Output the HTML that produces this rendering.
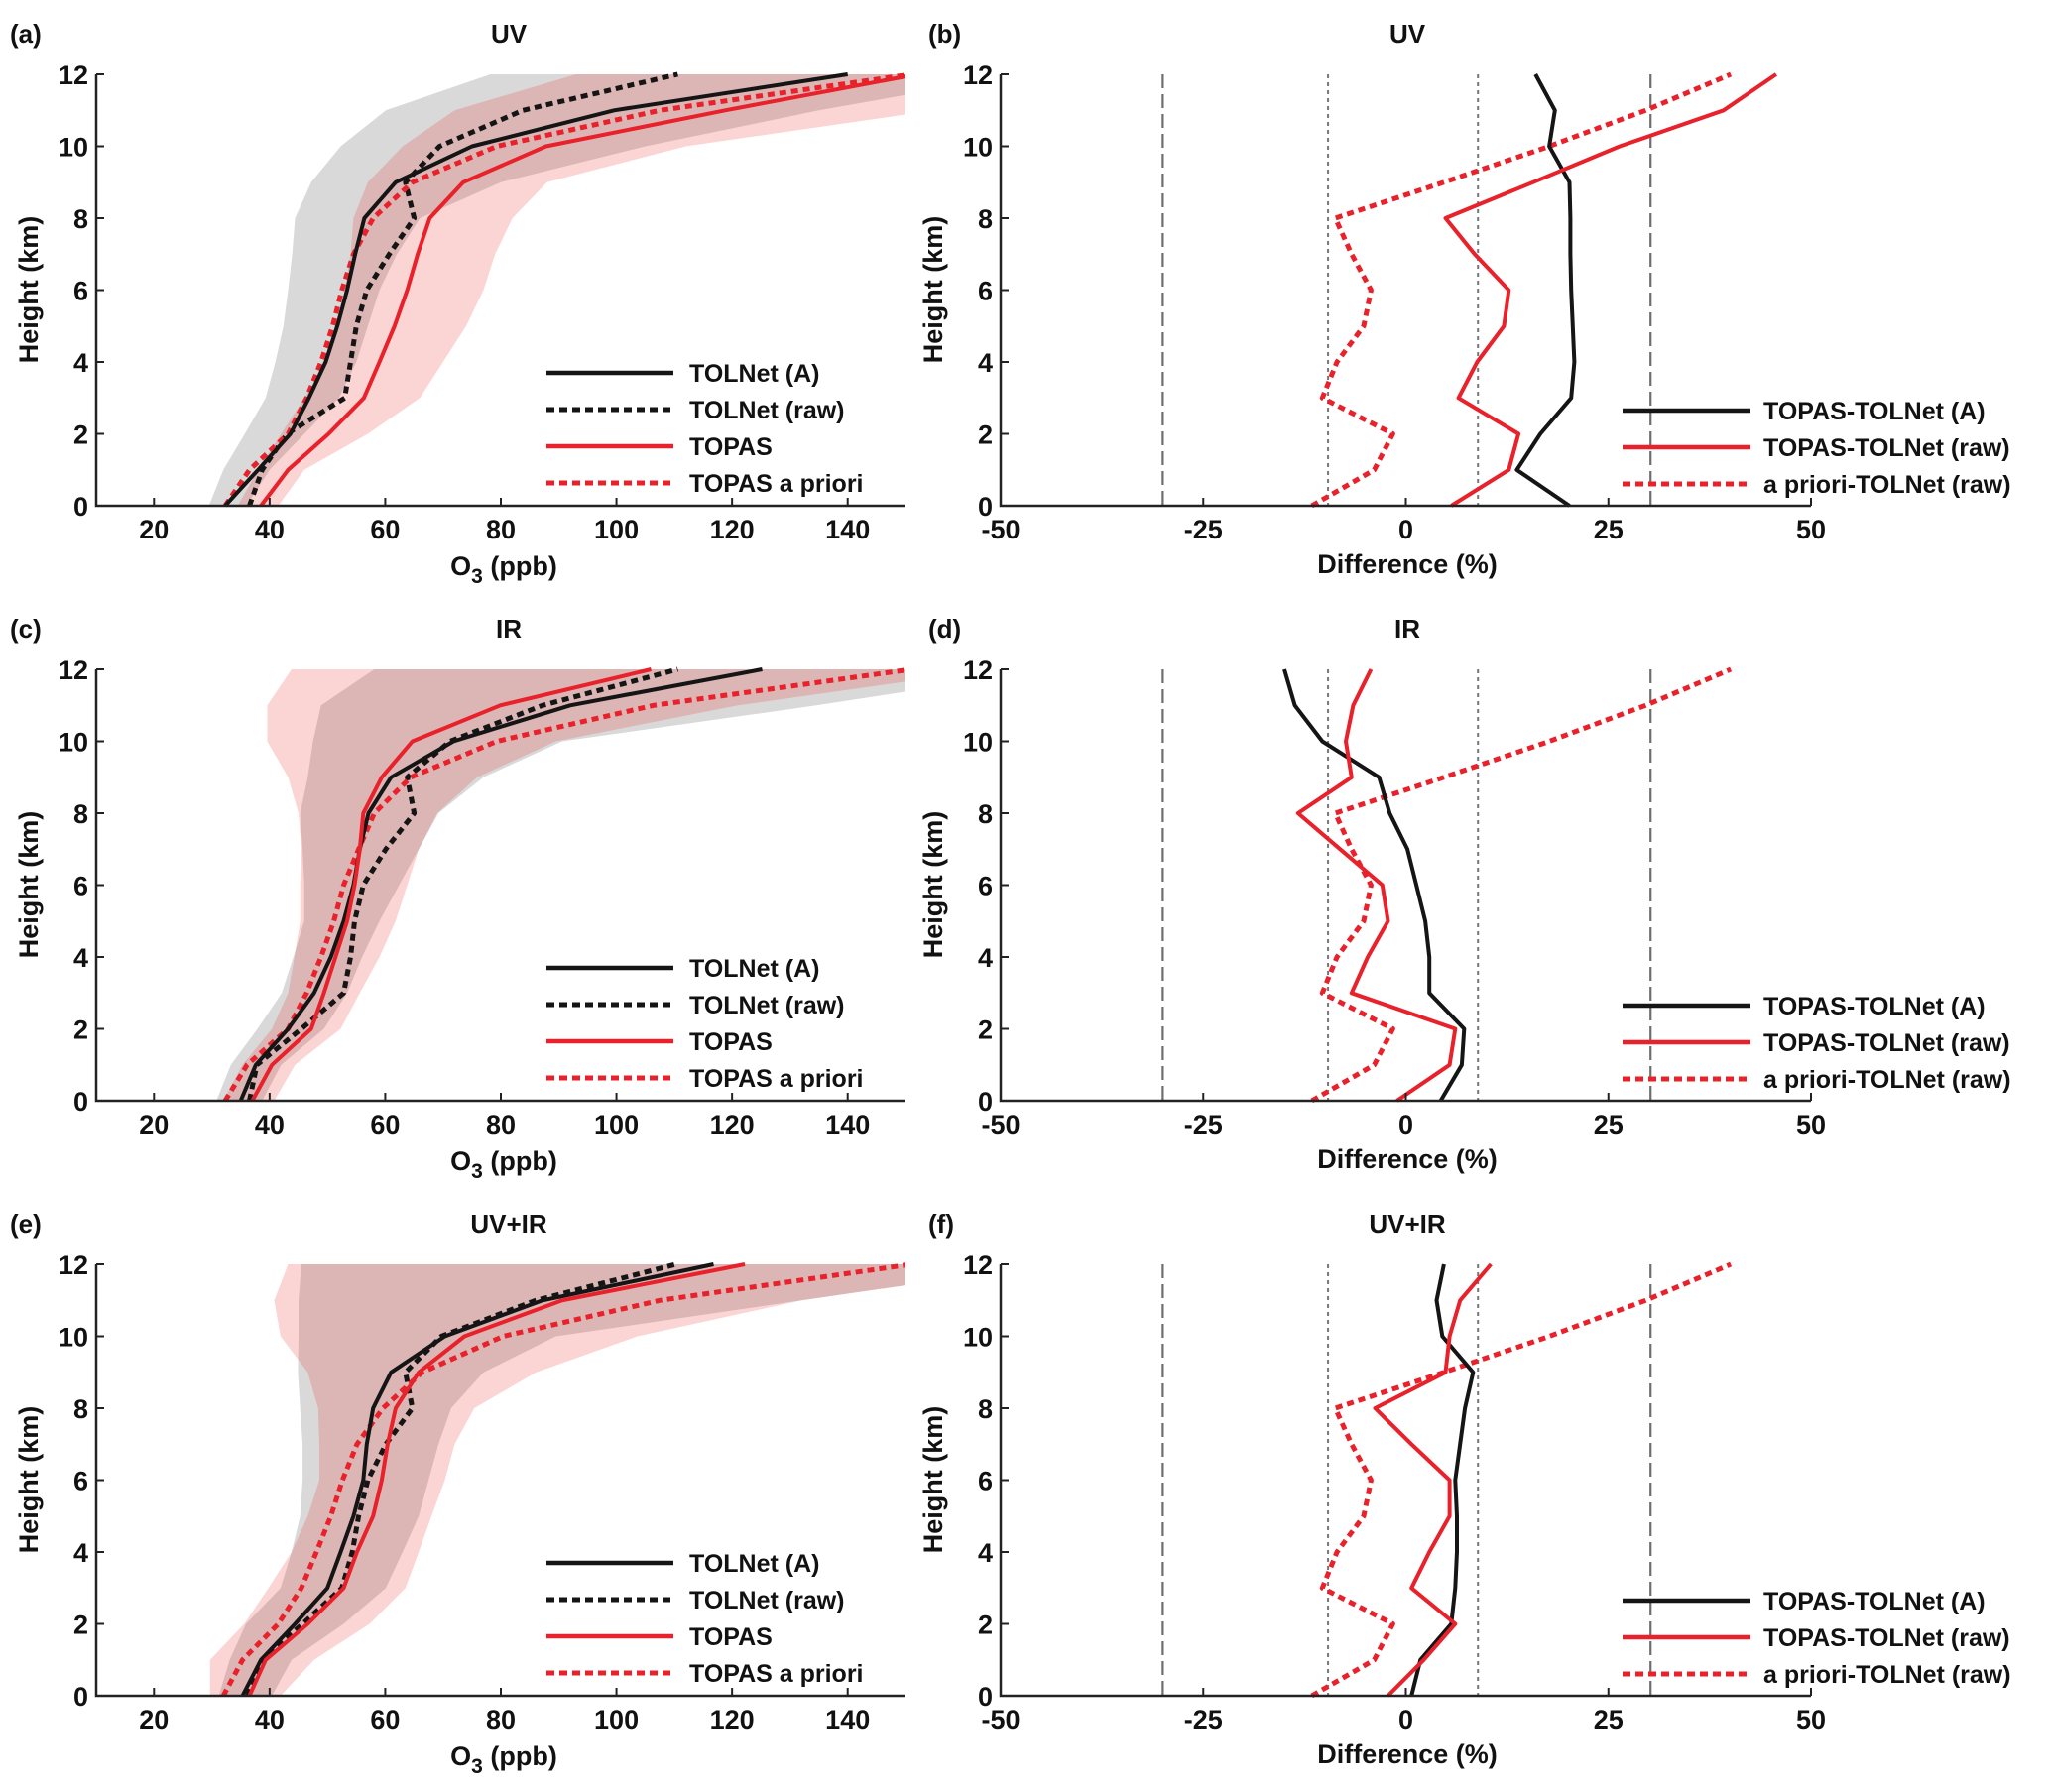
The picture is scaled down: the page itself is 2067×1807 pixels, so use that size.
<!DOCTYPE html>
<html><head><meta charset="utf-8">
<style>
html,body{margin:0;padding:0;background:#fff;}
svg{display:block;}
text{font-family:"Liberation Sans Narrow","Liberation Sans",sans-serif;font-weight:bold;fill:#111;}
</style></head>
<body>
<svg id="fig" width="2067" height="1807" viewBox="0 0 2067 1807" xmlns="http://www.w3.org/2000/svg">
<defs>
<clipPath id="clipL0"><rect x="97" y="60" width="816" height="452"/></clipPath>
<clipPath id="clipL1"><rect x="97" y="660" width="816" height="452"/></clipPath>
<clipPath id="clipL2"><rect x="97" y="1260" width="816" height="452"/></clipPath>
</defs>
</svg>
<script>
const heights = [0,1,2,3,4,5,6,7,8,9,10,11,12];
const o3Ticks = [20,40,60,80,100,120,140];
const diffTicks = [-50,-25,0,25,50];
const hTicks = [0,2,4,6,8,10,12];
const refLines = [-30,-9.6,8.9,30.2];

// Panel a (UV)
const aTolA   = [32.3,38,43.6,46.8,49.7,51.7,53.4,54.8,56.4,61.8,75,99.6,140];
const aTolRaw = [36.5,38.7,43,53,54,55,56.8,60.7,65,63.5,69.4,83.8,110.6];
const aTopas  = [38.5,43.2,50.2,56.3,59,61.6,63.8,65.6,67.7,73.5,87.8,118.8,152];
const aPrior  = [32.3,36.5,43.2,46.4,48.9,50.9,52.5,54.5,57.9,64.7,79.3,107.5,151];
const aGreyL  = [29.5,32,35.7,39.3,41,42.4,43.2,43.9,44.4,47.2,52.3,60.1,78.2];
const aGreyR  = [36,40,46,52,55,57,59,62,66,80,105,135,170];
const aPinkL  = [34.5,38,42,46,50,52,53,54,54.5,57,63,72,93];
const aPinkR  = [41.5,46,57,66,70,74,77,79,82,88,112,155,180];
// Panel b (UV diff)
const bDiffA   = [20.2,13.7,16.6,20.4,20.8,20.6,20.4,20.3,20.3,20.2,17.7,18.4,16];
const bDiffRaw = [5.6,12.7,13.9,6.5,8.8,12.1,12.7,8.5,4.9,15.7,26.4,39.2,45.7];
const bPrior   = [-11.6,-3.9,-1.6,-10.3,-8.5,-5.2,-4.3,-6.7,-8.7,4.7,17.7,29.6,40.1];
// Panel c (IR)
const cTolA   = [35,37.6,43.2,47.7,50.6,52.8,54.5,55.6,57.1,61,71.8,92,125.2];
const cTolRaw = [36.5,37.8,45.5,52.8,54,54.7,56.2,60.1,65,63.8,71.2,87.2,110.6];
const cTopas  = [37,40.4,47.2,49.4,51.4,53.4,54.7,55.6,56.2,59.4,64.7,79.9,106];
const cPrior  = [32.3,36.1,43.2,46.4,48.9,51.1,52.8,55.4,58.1,64.4,79.3,106.4,151];
const cGreyL  = [30.8,33.3,37.9,42.1,44.1,46,46,45.7,45.3,46.6,47.5,48.9,58.1];
const cGreyR  = [38.7,42,49.4,53.4,56,59,62.4,65.8,69.2,77,90.6,134.6,175];
const cPinkL  = [32,35.3,40.4,43.2,44.3,45.3,45.3,45.5,45,43.2,39.6,39.6,43.8];
const cPinkR  = [40.8,44.4,52.3,55.6,59,61.8,63.8,65.8,69,75.9,89.5,121,165];
// Panel d (IR diff)
const dDiffA   = [4.3,6.9,7.2,2.9,2.9,2.4,1.3,0.2,-2,-3.3,-10.3,-13.7,-15];
const dDiffRaw = [-1.1,5.4,6.1,-6.7,-4.7,-2.2,-2.9,-8.1,-13.3,-6.7,-7.4,-6.5,-4.3];
const dPrior   = [-11.6,-3.9,-1.6,-10.3,-8.5,-5.2,-4.3,-6.7,-8.7,4.7,17.7,29.6,40.1];
// Panel e (UV+IR)
const eTolA   = [35.3,38.5,44.4,50,52.3,54.5,56.2,56.8,57.9,61,70.3,87.2,116.8];
const eTolRaw = [36.2,38.7,45.7,52.5,54.3,55.4,57,60.1,64.7,63.5,69.7,86,110.3];
const eTopas  = [36.5,39.3,46.6,52.8,55.1,57.9,59.4,60.4,61.8,65.8,73.7,90.6,122.2];
const ePrior  = [32,35.3,41.5,45.5,48.1,50.6,52.6,55.1,59.6,66.4,80.4,107.5,151];
const eGreyL  = [31.2,33.1,35.9,41.9,43.8,45.3,45.7,45.7,45.3,44.9,45,45,45.5];
const eGreyR  = [40.4,43.8,52.8,60.1,63,65.8,67.5,69.2,71.4,77,89.5,132,175];
const ePinkL  = [29.7,29.7,35.6,39.8,43.8,46.6,48.6,48.6,48.4,46.6,41.9,40.8,43.2];
const ePinkR  = [41.9,47.7,57.3,63.5,65.8,68,70.3,72,75.4,86.1,103.6,132,175];
// Panel f (UV+IR diff)
const fDiffA   = [0.7,1.8,5.6,6.1,6.3,6.3,6.1,6.7,7.3,8.3,4.5,3.8,4.7];
const fDiffRaw = [-2.2,2.2,6.1,0.7,2.9,5.4,5.4,0.7,-3.8,4.9,5.4,6.7,10.5];
const fPrior   = [-11.6,-3.9,-1.6,-10.3,-8.5,-5.2,-4.3,-6.7,-8.7,4.7,17.7,29.6,40.1];

const NS = "http://www.w3.org/2000/svg";
const svg = document.getElementById('fig');
const RED = "#e8212b", BLK = "#151515";

function mk(tag, attrs, parent){
  const e = document.createElementNS(NS, tag);
  for (const k in attrs) e.setAttribute(k, attrs[k]);
  (parent||svg).appendChild(e);
  return e;
}
function txt(x,y,s,size,anchor,parent){
  const t = mk('text',{x:x,y:y,'font-size':size,'text-anchor':anchor||'middle'},parent);
  t.textContent = s;
  return t;
}

const titles = ["UV","IR","UV+IR"];
const letters = [["(a)","(b)"],["(c)","(d)"],["(e)","(f)"]];
const leftData = [
  {a:aTolA,r:aTolRaw,t:aTopas,p:aPrior,gl:aGreyL,gr:aGreyR,pl:aPinkL,pr:aPinkR},
  {a:cTolA,r:cTolRaw,t:cTopas,p:cPrior,gl:cGreyL,gr:cGreyR,pl:cPinkL,pr:cPinkR},
  {a:eTolA,r:eTolRaw,t:eTopas,p:ePrior,gl:eGreyL,gr:eGreyR,pl:ePinkL,pr:ePinkR}];
const rightData = [
  {a:bDiffA,r:bDiffRaw,p:bPrior},
  {a:dDiffA,r:dDiffRaw,p:dPrior},
  {a:fDiffA,r:fDiffRaw,p:fPrior}];

function yScale(row){ const top=75+600*row, bot=510+600*row; return h => bot - (h/12)*(bot-top); }
const xL = v => 97 + (v-10)/140*816;
const xR = v => 1009 + (v+50)/100*817;

function linePath(xs, ys, xf, yf){
  return xs.map((v,i)=>(i?'L':'M')+xf(v).toFixed(1)+','+yf(ys[i]).toFixed(1)).join(' ');
}
function bandPath(l, r, ys, xf, yf){
  let d = l.map((v,i)=>(i?'L':'M')+xf(v).toFixed(1)+','+yf(ys[i]).toFixed(1)).join(' ');
  for (let i=r.length-1;i>=0;i--) d += ' L'+xf(r[i]).toFixed(1)+','+yf(ys[i]).toFixed(1);
  return d+' Z';
}

function axes(g, x0, x1, yf, ticks, xf, tickLabels){
  const bot = yf(0), top = yf(12);
  const ax = mk('path',{d:`M${x0},${top} L${x0},${bot} L${x1},${bot}`,fill:'none',stroke:'#222','stroke-width':2.5},g);
   
  hTicks.forEach(h=>{
    mk('line',{x1:x0,x2:x0+8,y1:yf(h),y2:yf(h),stroke:'#222','stroke-width':2},g);
    const t = txt(x0-8, yf(h)+10, String(h), 27, 'end', g);
     
  });
  ticks.forEach((v,i)=>{
    mk('line',{x1:xf(v),x2:xf(v),y1:bot,y2:bot-8,stroke:'#222','stroke-width':2},g);
    const t = txt(xf(v), bot+33, tickLabels[i], 27, 'middle', g);
     
  });
}

function legend(g, x0, x1, tx, y0, items){
  items.forEach((it,i)=>{
    const y = y0 + i*37;
    const l = mk('line',{x1:x0,x2:x1,y1:y,y2:y,stroke:it.c,'stroke-width':it.dash?5:4.5},g);
    if (it.dash) l.setAttribute('stroke-dasharray','8,5');
     
    const t = txt(tx, y+9, it.s, 25, 'start', g);
     
  });
}

for (let row=0; row<3; row++){
  const yf = yScale(row);
  // LEFT panel
  const gL = mk('g',{});
  
  
  const D = leftData[row];
  const bands = mk('g',{'clip-path':`url(#clipL${row})`},gL);
  const gb = mk('path',{d:bandPath(D.gl,D.gr,heights,xL,yf),fill:'rgb(128,128,128)','fill-opacity':0.3},bands);
   
  const pb = mk('path',{d:bandPath(D.pl,D.pr,heights,xL,yf),fill:'rgb(235,40,40)','fill-opacity':0.2},bands);
   
  const series = [
    {v:D.r,c:BLK,dash:true,n:'tolnet-raw-line'},
    {v:D.p,c:RED,dash:true,n:'topas-apriori-line'},
    {v:D.a,c:BLK,dash:false,n:'tolnet-a-line'},
    {v:D.t,c:RED,dash:false,n:'topas-line'}];
  series.forEach(s=>{
    const p = mk('path',{d:linePath(s.v,heights,xL,yf),fill:'none',stroke:s.c,'stroke-width':s.dash?5:4,'stroke-linejoin':'round'},bands);
    if (s.dash) p.setAttribute('stroke-dasharray','7,5');
     
  });
  axes(gL,97,913,yf,o3Ticks,xL,o3Ticks.map(String));
  legend(gL,551,679,695,376+600*row,[
    {s:'TOLNet (A)',c:BLK},{s:'TOLNet (raw)',c:BLK,dash:true},{s:'TOPAS',c:RED},{s:'TOPAS a priori',c:RED,dash:true}]);
  let t = txt(513,43+600*row,titles[row],26,'middle',gL);
   
  t = txt(10,43+600*row,letters[row][0],26,'start',gL);
   
  t = mk('text',{x:508,y:580+600*row,'font-size':27,'text-anchor':'middle'},gL);
  t.innerHTML = 'O<tspan font-size="21" dy="8">3</tspan><tspan dy="-8"> (ppb)</tspan>';
   
  t = txt(0,0,'Height (km)',27,'middle',gL);
  t.setAttribute('transform',`translate(38,${292+600*row}) rotate(-90)`);
   

  // RIGHT panel
  const gR = mk('g',{});
  
  
  refLines.forEach((v,i)=>{
    const outer = (i===0||i===3);
    const l = mk('line',{x1:xR(v),x2:xR(v),y1:yf(12),y2:yf(0),stroke:outer?'#6e6e6e':'#777','stroke-width':outer?2.2:2,'stroke-dasharray':outer?'14,6':'4,4'},gR);
     
  });
  const R = rightData[row];
  [{v:R.p,c:RED,dash:true,n:'apriori-minus-tolnet-raw-line'},
   {v:R.a,c:BLK,dash:false,n:'topas-minus-tolnet-a-line'},
   {v:R.r,c:RED,dash:false,n:'topas-minus-tolnet-raw-line'}].forEach(s=>{
    const p = mk('path',{d:linePath(s.v,heights,xR,yf),fill:'none',stroke:s.c,'stroke-width':s.dash?5:4,'stroke-linejoin':'round'},gR);
    if (s.dash) p.setAttribute('stroke-dasharray','7,5');
     
  });
  axes(gR,1009,1826,yf,diffTicks,xR,diffTicks.map(String));
  legend(gR,1636,1765,1778,414+600*row,[
    {s:'TOPAS-TOLNet (A)',c:BLK},{s:'TOPAS-TOLNet (raw)',c:RED},{s:'a priori-TOLNet (raw)',c:RED,dash:true}]);
  t = txt(1419,43+600*row,titles[row],26,'middle',gR);
   
  t = txt(936,43+600*row,letters[row][1],26,'start',gR);
   
  t = txt(1419,578+600*row,'Difference (%)',27,'middle',gR);
   
  t = txt(0,0,'Height (km)',27,'middle',gR);
  t.setAttribute('transform',`translate(950,${292+600*row}) rotate(-90)`);
   
}
</script>
</body></html>
